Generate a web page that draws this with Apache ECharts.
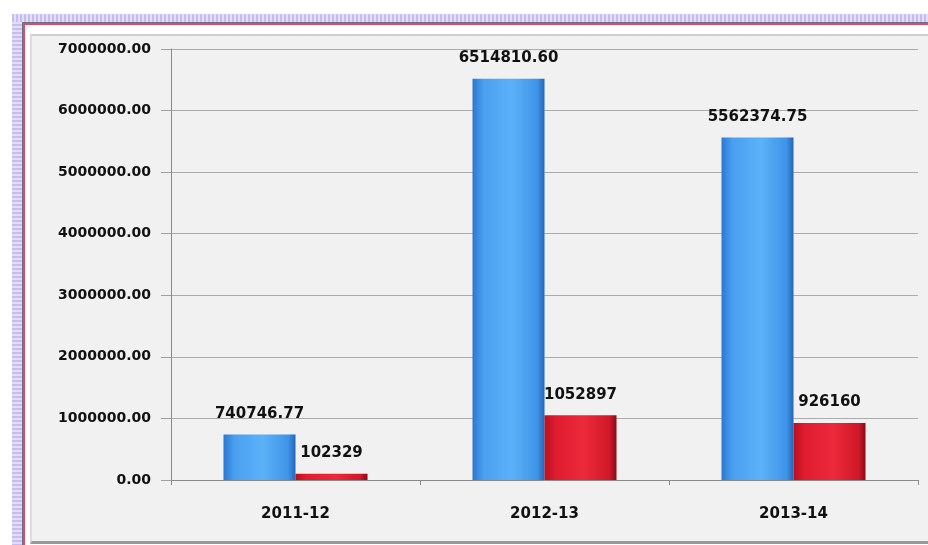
<!DOCTYPE html>
<html>
<head>
<meta charset="utf-8">
<script src="https://cdn.jsdelivr.net/npm/echarts@6/dist/echarts.min.js"></script>
<style>
html,body{margin:0;padding:0;background:#fff;width:928px;height:545px;overflow:hidden;}
.bandv{position:absolute;left:12px;top:14px;width:10px;height:540px;background:repeating-linear-gradient(0deg,#c4bcf2 0px,#c4bcf2 2px,#e4dff8 2px,#e4dff8 4px);}
.bandh{position:absolute;left:12px;top:14px;width:930px;height:8px;background:repeating-linear-gradient(90deg,#c4bcf2 0px,#c4bcf2 2px,#e4dff8 2px,#e4dff8 4px);}
#dark{position:absolute;left:22px;top:22px;width:940px;height:560px;border-left:1px solid #707080;border-top:1px solid #707080;}
#red{position:absolute;left:23px;top:23px;width:940px;height:560px;border-left:2px solid #e04a6a;border-top:2px solid #e04a6a;}
#panel{position:absolute;left:30px;top:34px;width:920px;height:505px;background:#f1f1f1;border-left:2px solid #dcdcdc;border-top:2px solid #cfcfcf;border-bottom:3px solid #9a9a9a;}
#chart{position:absolute;left:0;top:0;width:928px;height:545px;}
</style>
</head>
<body>
<div class="bandv"></div>
<div class="bandh"></div>
<div id="dark"></div>
<div id="red"></div>
<div id="panel"></div>
<div id="chart"></div>
<script>
const categories = ['2011-12', '2012-13', '2013-14'];
const seriesA = [740746.77, 6514810.60, 5562374.75];
const seriesB = [102329, 1052897, 926160];
const labelsA = ['740746.77', '6514810.60', '5562374.75'];
const labelsB = ['102329', '1052897', '926160'];
const yTicks = { min: 0, max: 7000000, interval: 1000000 };

const chart = echarts.init(document.getElementById('chart'));
const fontFamily = 'DejaVu Sans, Verdana, sans-serif';
chart.setOption({
  animation: false,
  backgroundColor: 'transparent',
  grid: { left: 171, right: 10, top: 49, bottom: 65 },
  xAxis: {
    type: 'category',
    data: categories,
    axisLine: { lineStyle: { color: '#8a8a8a', width: 1 } },
    axisTick: { show: true, length: 5, lineStyle: { color: '#8a8a8a' } },
    axisLabel: { color: '#111', fontWeight: 'bold', fontSize: 15, fontFamily, margin: 27 }
  },
  yAxis: {
    type: 'value',
    min: yTicks.min, max: yTicks.max, interval: yTicks.interval,
    axisLine: { show: true, lineStyle: { color: '#8a8a8a' } },
    axisTick: { show: true, length: 10, lineStyle: { color: '#a0a0a0' } },
    splitLine: { lineStyle: { color: '#ababab' } },
    axisLabel: { color: '#111', fontWeight: 'bold', fontSize: 14, fontFamily, margin: 20,
      formatter: v => v.toFixed(2) }
  },
  series: [
    {
      type: 'bar', data: seriesA, barWidth: 72, barGap: '0%',
      itemStyle: {
        color: new echarts.graphic.LinearGradient(0, 0, 1, 0, [
          { offset: 0, color: '#2a78d0' },
          { offset: 0.15, color: '#4a9ff0' },
          { offset: 0.55, color: '#5cb2f8' },
          { offset: 0.9, color: '#3f93e8' },
          { offset: 1, color: '#2366b8' }
        ])
      },
      label: { show: true, position: 'top', distance: 13, color: '#111', fontWeight: 'bold', fontSize: 15, fontFamily,
        formatter: p => labelsA[p.dataIndex] }
    },
    {
      type: 'bar', data: seriesB, barWidth: 72,
      itemStyle: {
        color: new echarts.graphic.LinearGradient(0, 0, 1, 0, [
          { offset: 0, color: '#b8101e' },
          { offset: 0.15, color: '#e01c30' },
          { offset: 0.55, color: '#ec2a3c' },
          { offset: 0.9, color: '#d01828' },
          { offset: 1, color: '#8a0a14' }
        ])
      },
      label: { show: true, position: 'top', distance: 13, color: '#111', fontWeight: 'bold', fontSize: 15, fontFamily,
        formatter: p => labelsB[p.dataIndex] }
    }
  ]
});
</script>
</body>
</html>
